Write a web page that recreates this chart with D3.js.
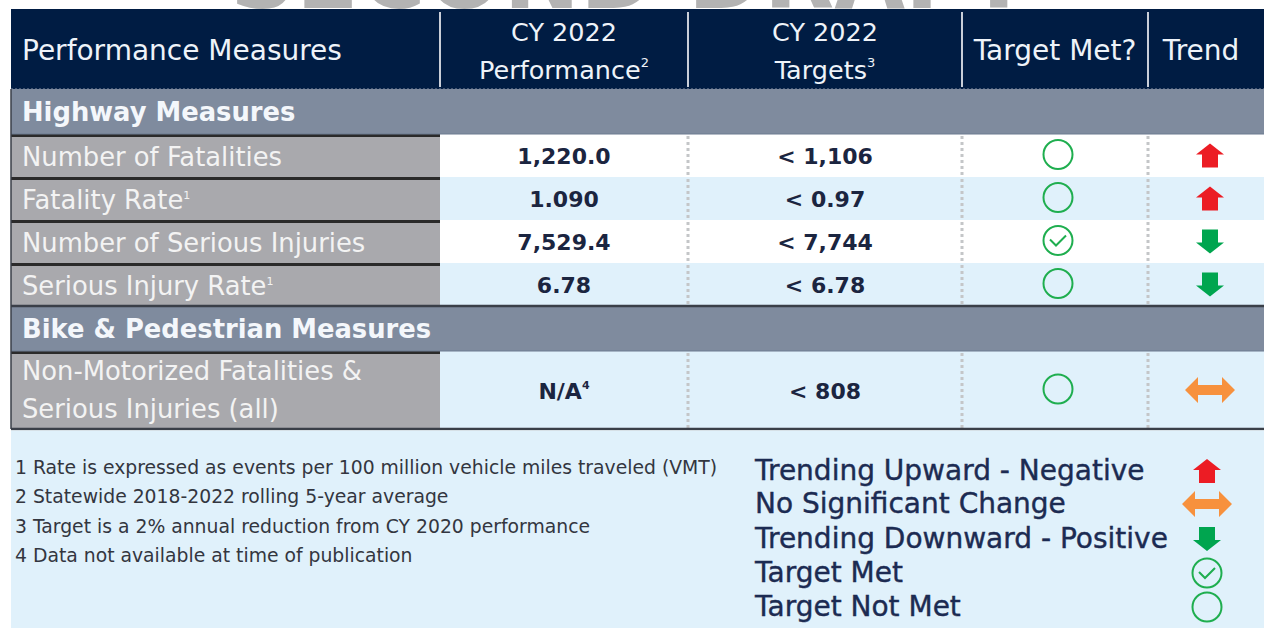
<!DOCTYPE html>
<html><head><meta charset="utf-8">
<script src="https://cdn.jsdelivr.net/npm/d3@7"></script>
<style>body{margin:0;background:#fff}svg{display:block}</style>
</head><body>
<svg id="c" width="1264" height="628"></svg>
<script>
// ---------- data ----------
const watermark = "SECOND DRAFT";
const headerLines = [["Performance Measures"], ["CY 2022", "Performance"], ["CY 2022", "Targets"], ["Target Met?"], ["Trend"]];
const headerSup = ["", "2", "3", "", ""];
const sections = ["Highway Measures", "Bike & Pedestrian Measures"];
const measures = ["Number of Fatalities", "Fatality Rate", "Number of Serious Injuries", "Serious Injury Rate", "Non-Motorized Fatalities &\nSerious Injuries (all)"];
const measureSup = ["", "1", "", "1", ""];
const measureSection = [0, 0, 0, 0, 1];
const performance = ["1,220.0", "1.090", "7,529.4", "6.78", "N/A"];
const performanceSup = ["", "", "", "", "4"];
const targets = ["< 1,106", "< 0.97", "< 7,744", "< 6.78", "< 808"];
const targetMet = [false, false, true, false, false];
const trend = ["up", "up", "down", "down", "flat"];
const footnotes = [
  "1 Rate is expressed as events per 100 million vehicle miles traveled (VMT)",
  "2 Statewide 2018-2022 rolling 5-year average",
  "3 Target is a 2% annual reduction from CY 2020 performance",
  "4 Data not available at time of publication"
];
const legendLabels = ["Trending Upward - Negative", "No Significant Change", "Trending Downward - Positive", "Target Met", "Target Not Met"];
const legendIcons = ["up", "flat", "down", "met", "notmet"];

// ---------- layout ----------
const W = 1264, H = 628;
const svg = d3.select("#c");
const FONT = "'DejaVu Sans', Verdana, sans-serif";
const NAVY = "#001c43", SECT = "#7f8b9e", LABEL = "#a9a9ad", LBLUE = "#e0f1fb", DARK = "#2a2a2a";
const colEdges = [11, 440, 688, 962, 1148, W];
const col = i => ({x0: colEdges[i], x1: colEdges[i + 1], cx: (colEdges[i] + colEdges[i + 1]) / 2});

const rows = [];
sections.forEach((s, si) => {
  rows.push({type: "section", label: s, h: 45});
  measures.forEach((m, i) => {
    if (measureSection[i] === si) rows.push({type: "row", i, h: m.includes("\n") ? 78 : 43});
  });
});
const headTop = 9, headBot = 89;
let acc = headBot;
rows.forEach(r => { r.y0 = acc; acc += r.h; r.y1 = acc; r.cy = (r.y0 + r.y1) / 2; });
const tableBot = acc;

function drawIcon(cx, cy, kind) {
  const g = svg.append("g").attr("transform", `translate(${cx},${cy})`);
  if (kind === "up" || kind === "down") {
    const pts = [[0, -12], [14, -1], [8, -1], [8, 12], [-8, 12], [-8, -1], [-14, -1]];
    g.append("polygon").attr("points", pts.map(p => [p[0], kind === "up" ? p[1] : -p[1]].join(",")).join(" "))
      .attr("fill", kind === "up" ? "#ec1c24" : "#00a54f");
  } else if (kind === "flat") {
    const pts = [[-25, 0], [-12, -13], [-12, -5], [12, -5], [12, -13], [25, 0], [12, 13], [12, 5], [-12, 5], [-12, 13]];
    g.append("polygon").attr("points", pts.map(p => p.join(",")).join(" ")).attr("fill", "#f7913d");
  } else {
    g.append("circle").attr("r", 14.5).attr("fill", "none").attr("stroke", "#1fae4f").attr("stroke-width", 2);
    if (kind === "met") g.append("polyline").attr("points", "-8,-1 -2,5 8,-5").attr("fill", "none")
      .attr("stroke", "#1fae4f").attr("stroke-width", 2);
  }
}

// watermark (clipped at the header top, as in the source)
svg.append("clipPath").attr("id", "wm").append("rect").attr("x", 0).attr("y", 0).attr("width", W).attr("height", 9);
svg.append("g").attr("clip-path", "url(#wm)").append("text").attr("x", 630).attr("y", 8).attr("text-anchor", "middle")
  .attr("font-family", FONT).attr("font-weight", "bold").attr("font-size", 100)
  .attr("fill", "#b3b3b3").attr("textLength", 800).attr("lengthAdjust", "spacingAndGlyphs").text(watermark);

// header
svg.append("rect").attr("x", 11).attr("y", headTop).attr("width", W - 11).attr("height", headBot - headTop).attr("fill", NAVY);
[1, 2, 3, 4].forEach(i => svg.append("line").attr("x1", colEdges[i]).attr("x2", colEdges[i])
  .attr("y1", headTop + 3).attr("y2", headBot - 2).attr("stroke", "#c9ced8").attr("stroke-width", 2));
headerLines.forEach((lines, i) => {
  const c = col(i);
  const anchor = i === 0 ? "start" : "middle";
  const x = i === 0 ? 22 : (i === 4 ? c.cx - 5 : c.cx);
  const ys = lines.length === 1 ? [50] : [32, 70];
  const fs = lines.length === 1 ? 28 : 25.5;
  lines.forEach((ln, k) => {
    const t = svg.append("text").attr("x", x).attr("y", ys[k]).attr("dy", "0.36em").attr("text-anchor", anchor)
      .attr("font-family", FONT).attr("font-size", fs).attr("fill", "#eef3f9").text(ln);
    if (k === lines.length - 1 && headerSup[i]) t.append("tspan").attr("font-size", 13).attr("dy", "-0.9em").text(headerSup[i]);
  });
});
svg.append("line").attr("x1", 11).attr("x2", W).attr("y1", headBot).attr("y2", headBot)
  .attr("stroke", "#5a6a85").attr("stroke-width", 1.5).attr("stroke-dasharray", "2,2");

// rows
const shade = r => (measureSection[r.i] === 0 && r.i % 2 === 0) ? "#ffffff" : LBLUE;
rows.forEach(r => {
  if (r.type === "section") {
    svg.append("rect").attr("x", 11).attr("y", r.y0).attr("width", W - 11).attr("height", r.h).attr("fill", SECT);
    svg.append("text").attr("x", 22).attr("y", r.cy).attr("dy", "0.36em").attr("font-family", FONT)
      .attr("font-weight", "bold").attr("font-size", 25.8).attr("fill", "#f4f7fb").text(r.label);
  } else {
    const i = r.i;
    svg.append("rect").attr("x", colEdges[1]).attr("y", r.y0).attr("width", W - colEdges[1]).attr("height", r.h).attr("fill", shade(r));
    svg.append("rect").attr("x", 11).attr("y", r.y0).attr("width", colEdges[1] - 11).attr("height", r.h).attr("fill", LABEL);
    svg.append("line").attr("x1", 11).attr("x2", colEdges[1]).attr("y1", r.y0 + 1.5).attr("y2", r.y0 + 1.5).attr("stroke", DARK).attr("stroke-width", 3);
    const lines = measures[i].split("\n");
    lines.forEach((ln, k) => {
      const ty = lines.length === 1 ? r.cy + 1 : r.cy - 19 + k * 38;
      const t = svg.append("text").attr("x", 22).attr("y", ty).attr("dy", "0.36em").attr("font-family", FONT)
        .attr("font-size", 25.8).attr("fill", "#f3f3f3").text(ln);
      if (k === lines.length - 1 && measureSup[i]) t.append("tspan").attr("font-size", 11).attr("dy", "-0.9em").text(measureSup[i]);
    });
    const p = svg.append("text").attr("x", col(1).cx).attr("y", r.cy + 1).attr("dy", "0.36em").attr("text-anchor", "middle")
      .attr("font-family", FONT).attr("font-weight", "bold").attr("font-size", 22).attr("fill", "#1b2540").text(performance[i]);
    if (performanceSup[i]) p.append("tspan").attr("font-size", 11).attr("dy", "-0.9em").text(performanceSup[i]);
    svg.append("text").attr("x", col(2).cx).attr("y", r.cy + 1).attr("dy", "0.36em").attr("text-anchor", "middle")
      .attr("font-family", FONT).attr("font-weight", "bold").attr("font-size", 22).attr("fill", "#1b2540").text(targets[i]);
    drawIcon(col(3).cx + 3, r.cy - 1, targetMet[i] ? "met" : "notmet");
    drawIcon(col(4).cx + 4, r.cy, trend[i]);
    [2, 3, 4].forEach(c => svg.append("line").attr("x1", colEdges[c]).attr("x2", colEdges[c])
      .attr("y1", r.y0 + 2).attr("y2", r.y1 - 1).attr("stroke", "#c4c6c8").attr("stroke-width", 3)
      .attr("stroke-dasharray", "3,3"));
  }
});
const sectionEnds = rows.filter((r, k) => r.type === "row" && (k === rows.length - 1 || rows[k + 1].type === "section")).map(r => r.y1);
sectionEnds.forEach(yy => svg.append("line").attr("x1", 11).attr("x2", W).attr("y1", yy).attr("y2", yy).attr("stroke", "#3a3f48").attr("stroke-width", 2.5));
rows.filter(r => r.type === "section").forEach(r => svg.append("line").attr("x1", 11).attr("x2", W).attr("y1", r.y1).attr("y2", r.y1).attr("stroke", "#6c7a90").attr("stroke-width", 1));
svg.append("line").attr("x1", 11).attr("x2", 11).attr("y1", headBot).attr("y2", tableBot).attr("stroke", "#3a3f48").attr("stroke-width", 1.5);

// footnote area
svg.append("rect").attr("x", 11).attr("y", tableBot + 1.5).attr("width", W - 11).attr("height", H - tableBot).attr("fill", LBLUE);
footnotes.forEach((f, k) => svg.append("text").attr("x", 15).attr("y", 467 + k * 29.5).attr("dy", "0.36em")
  .attr("font-family", FONT).attr("font-size", 18.8).attr("fill", "#33363f").text(f));
const legendY = [470, 503, 538, 572, 606];
legendLabels.forEach((l, k) => {
  svg.append("text").attr("x", 755).attr("y", legendY[k]).attr("dy", "0.36em").attr("font-family", FONT)
    .attr("font-size", 28).attr("fill", "#1c2b52").attr("stroke", "#1c2b52").attr("stroke-width", 0.4).text(l);
  drawIcon(1207, legendY[k] + 1, legendIcons[k]);
});
</script>
</body></html>
